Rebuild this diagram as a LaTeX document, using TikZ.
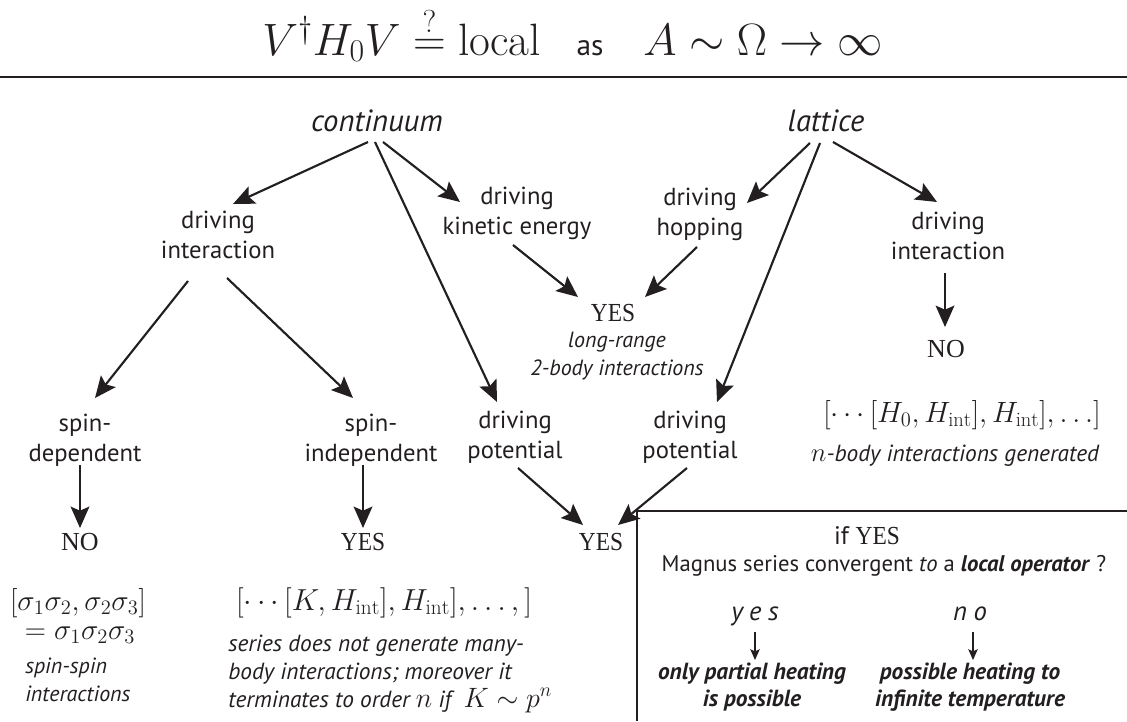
\RequirePackage{fix-cm}
\documentclass[tikz,border=0pt]{standalone}
\usepackage{amsmath}
\usepackage{fontspec}
\setsansfont{PT Sans}
\newfontfamily\minion{Liberation Serif}
\newfontfamily\minionn[FakeStretch=0.9]{Liberation Serif}
\usetikzlibrary{arrows.meta,calc}
\definecolor{ink}{RGB}{35,31,32}
\begin{document}
\begin{tikzpicture}[x=0.75pt,y=-0.75pt,
  every node/.style={inner sep=0pt,text=ink},
  ttl/.style={font=\fontsize{34}{40}\selectfont},
  assty/.style={font=\sffamily\fontsize{22}{26}\selectfont},
  big/.style={font=\sffamily\itshape\fontsize{23}{28}\selectfont},
  lab/.style={font=\sffamily\fontsize{18.5}{22.5}\selectfont,align=center},
  sml/.style={font=\sffamily\itshape\fontsize{16.5}{21}\selectfont,align=center},
  nosty/.style={font=\minion\fontsize{19.5}{24}\selectfont},
  yessty/.style={font=\minionn\fontsize{19.5}{24}\selectfont},
  mth/.style={font=\fontsize{22}{26}\selectfont},
  ita/.style={font=\sffamily\itshape\fontsize{17.5}{21}\selectfont},
  boxt/.style={font=\sffamily\fontsize{17}{21}\selectfont},
  yn/.style={font=\sffamily\itshape\fontsize{20}{24}\selectfont\addfontfeatures{LetterSpace=25}},
  bi/.style={font=\sffamily\bfseries\itshape\fontsize{17.5}{20.5}\selectfont,align=center},
  arr/.style={draw=ink,line width=1.6pt,-{Stealth[length=16pt,width=14pt,inset=3pt]}},
  sarr/.style={draw=ink,line width=1.1pt,-{Stealth[length=8pt,width=7pt,inset=1.5pt]}},
  rule/.style={draw=ink,line width=1.1pt},
  frame/.style={draw=ink,line width=0.8pt}]
\useasboundingbox (0,0) rectangle (1127,721);
\fill[white] (0,0) rectangle (1127,721);
% title
\node[ttl,anchor=base west] (tl) at (262,55) {$V^\dagger H_0 V \stackrel{?}{=} \mathrm{local}$};
\node[assty,anchor=base] (as) at (590,55) {as};
\node[ttl,anchor=base west] (tr) at (643,55) {$A\sim\Omega\to\infty$};
\draw[rule] (0,77) -- (1127,77);
% top level
\node[big,anchor=base] (cont) at (377,131) {continuum};
\node[big,anchor=base] (lat) at (826,131) {lattice};
% second level
\node[lab] (dintl) at (218,235) {driving\\interaction};
\node[lab] (kin) at (517,213) {driving\\kinetic energy};
\node[lab] (hop) at (700,214) {driving\\hopping};
\node[lab] (dintr) at (948,236) {driving\\interaction};
% middle yes
\node[yessty,anchor=base] (yesm) at (613,321) {YES};
\node[sml] (lr) at (617,356) {long-range\\2-body interactions};
% third level
\node[lab] (sdep) at (85,440) {spin-\\dependent};
\node[lab] (sind) at (371,440) {spin-\\independent};
\node[lab] (dpotl) at (515,437) {driving\\potential};
\node[lab] (dpotr) at (690,437) {driving\\potential};
\node[nosty,anchor=base] (nor) at (946,357) {NO};
\node[mth,anchor=base] (commH) at (962,422) {$[\cdots[H_0,H_{\mathrm{int}}],H_{\mathrm{int}}],\ldots]$};
\node[ita,anchor=base] (nbody) at (955,461) {\fontsize{20}{24}\selectfont$n$\fontsize{17.5}{21}\selectfont-body interactions generated};
% bottom level
\node[nosty,anchor=base] (nol) at (80,550) {NO};
\node[yessty,anchor=base] (yesl) at (363,550) {YES};
\node[yessty,anchor=base] (yesc) at (601,550) {YES};
\node[mth,anchor=base] (cl1) at (78,610) {$[\sigma_1\sigma_2,\sigma_2\sigma_3]$};
\node[mth,anchor=base] (cl2) at (80,639) {$=\sigma_1\sigma_2\sigma_3$};
\node[sml,anchor=base west] (ss1) at (25,673) {spin-spin};
\node[sml,anchor=base west] (ss2) at (25,701) {interactions};
\node[mth,anchor=base,font=\fontsize{22.8}{26}\selectfont] (commK) at (384,610) {$[\cdots[K,H_{\mathrm{int}}],H_{\mathrm{int}}],\ldots,]$};
\node[ita,anchor=base west] (se1) at (228,651) {series does not generate many-};
\node[ita,anchor=base west] (se2) at (228,679) {body interactions; moreover it};
\node[ita,anchor=base west] (se3) at (228,707) {terminates to order \fontsize{21}{24}\selectfont$n$\fontsize{17.5}{21}\selectfont{} if \ \fontsize{21}{24}\selectfont$K\sim p^n$};
% box
\draw[frame] (637,721) -- (637,511) -- (1127,511);
\node[anchor=base] (ifyes) at (867,544) {\sffamily\fontsize{19}{22}\selectfont if \minionn\fontsize{19.5}{22}\selectfont YES};
\node[boxt,anchor=base] (mag) at (884,571) {Magnus series convergent \textit{to} a \textbf{\textit{local operator}} ?};
\node[yn,anchor=base] (yes) at (755,620) {yes};
\node[yn,anchor=base] (no) at (970,620) {no};
\node[bi] (onlyp) at (752,687) {only partial heating\\is possible};
\node[bi] (possh) at (970,687) {possible heating to\\infinite temperature};
% connectors
\draw[arr] ($(cont.base)+(-9,11)$) -- ($(dintl)+(15,-31)$);
\draw[arr] ($(cont.base)+(-2,11)$) -- ($(dpotl)+(-18,-35)$);
\draw[arr] ($(cont.base)+(6,11)$) -- ($(kin)+(-57,-11)$);
\draw[arr] ($(lat.base)+(-16,12)$) -- ($(hop)+(47,-11)$);
\draw[arr] ($(lat.base)+(-6,12)$) -- ($(dpotr)+(27,-35)$);
\draw[arr] ($(lat.base)+(7,11)$) -- ($(dintr)+(-11,-34)$);
\draw[arr] ($(kin)+(-4,32)$) -- ($(yesm.base)+(-35,-24)$);
\draw[arr] ($(hop)+(-3,33)$) -- ($(yesm.base)+(32,-24)$);
\draw[arr] ($(dintl)+(-30,46)$) -- ($(sdep)+(10,-42)$);
\draw[arr] ($(dintl)+(9,43)$) -- ($(sind)+(-18,-42)$);
\draw[arr] ($(sdep)+(-5,25)$) -- ($(nol.base)+(0,-22)$);
\draw[arr] ($(sind)+(-8,25)$) -- ($(yesl.base)+(0,-22)$);
\draw[arr] ($(dpotl)+(3,31)$) -- ($(yesc.base)+(-18,-25)$);
\draw[arr] ($(dpotr)+(-3,31)$) -- ($(yesc.base)+(17,-25)$);
\draw[arr] ($(dintr)+(-3,37)$) -- ($(nor.base)+(-1,-30)$);
\draw[sarr] ($(yes.base)+(0,12)$) -- ($(onlyp)+(3,-27)$);
\draw[sarr] ($(no.base)+(3,12)$) -- ($(possh)+(3,-27)$);
\end{tikzpicture}
\end{document}
